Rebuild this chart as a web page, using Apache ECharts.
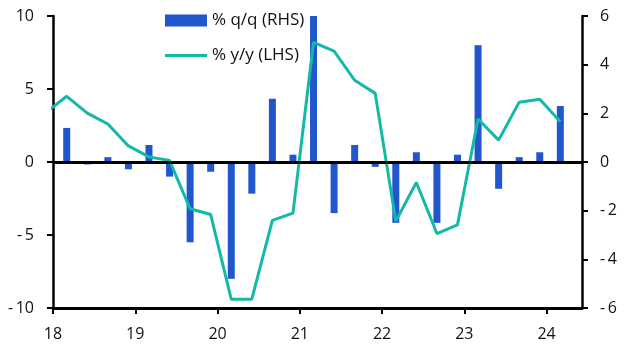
<!DOCTYPE html>
<html>
<head>
<meta charset="utf-8">
<script src="https://cdn.jsdelivr.net/npm/echarts@6/dist/echarts.min.js"></script>
<style>html,body{margin:0;padding:0;background:#fff}#c{width:629px;height:355px}</style>
</head>
<body>
<div id="c"></div>
<script>
// Quarters (line includes 2017Q4, bars start 2018Q1)
const lineQuarters = ["2017Q4","2018Q1","2018Q2","2018Q3","2018Q4","2019Q1","2019Q2","2019Q3","2019Q4","2020Q1","2020Q2","2020Q3","2020Q4","2021Q1","2021Q2","2021Q3","2021Q4","2022Q1","2022Q2","2022Q3","2022Q4","2023Q1","2023Q2","2023Q3","2023Q4","2024Q1"];
const yyValues = [3.4,4.5,3.35,2.6,1.1,0.35,0.1,-3.2,-3.6,-9.4,-9.4,-4.0,-3.5,8.2,7.6,5.6,4.7,-4.05,-1.4,-4.9,-4.3,2.95,1.5,4.1,4.3,2.75];
const barQuarters = lineQuarters.slice(1);
const qqValues = [1.4,-0.1,0.2,-0.3,0.7,-0.6,-3.3,-0.4,-4.8,-1.3,2.6,0.3,6.0,-2.1,0.7,-0.2,-2.5,0.4,-2.5,0.3,4.8,-1.1,0.2,0.4,2.3];
const xTicks = [18,19,20,21,22,23,24];
const lhsTicks = [-10,-5,0,5,10];
const rhsTicks = [-6,-4,-2,0,2,4,6];

function qx(q){ const y = parseInt(q.slice(0,4),10)-2000; const n = parseInt(q.slice(5),10); return y + (n-1)/4 + 1/6; }

const blue = '#2157CD', teal = '#13B9A7';
const font = 'Open Sans';
const axisFont = 16, legendFont = 17;
const chart = echarts.init(document.getElementById('c'), null, {renderer:'canvas'});
chart.setOption({
  animation:false,
  textStyle:{fontFamily:font},
  grid:{left:53,right:47,top:16,bottom:47,containLabel:false},
  legend:[
    {left:160, top:7, itemWidth:42, itemHeight:12, itemGap:0,
     textStyle:{fontFamily:font,fontSize:legendFont,color:'#111'},
     data:[{name:'% q/q (RHS)',icon:'rect'}]},
    {left:160, top:42, itemWidth:42, itemHeight:3, itemGap:0,
     textStyle:{fontFamily:font,fontSize:legendFont,color:'#111'},
     data:[{name:'% y/y (LHS)',icon:'rect'}]}
  ],
  xAxis:{
    type:'value', min:18, max:24.43, interval:1,
    axisLine:{show:true,onZero:false,lineStyle:{color:'#000',width:3}},
    axisTick:{show:true,length:6,lineStyle:{color:'#000',width:2}},
    axisLabel:{fontFamily:font,fontSize:axisFont,color:'#111',margin:18,showMaxLabel:false,
      formatter:v=> xTicks.includes(v)? String(v):''},
    splitLine:{show:false}
  },
  yAxis:[
    {type:'value',min:-10,max:10,interval:5,position:'left',
     axisLine:{show:true,onZero:false,lineStyle:{color:'#000',width:2.5}},
     axisTick:{show:true,length:6,lineStyle:{color:'#000',width:2}},
     axisLabel:{fontFamily:font,fontSize:axisFont,color:'#111',margin:19,
       formatter:v=> lhsTicks.includes(v)? String(v).replace('-','-\u2009'):''},
     splitLine:{show:false}},
    {type:'value',min:-6,max:6,interval:2,position:'right',
     axisLine:{show:true,onZero:false,lineStyle:{color:'#000',width:2.5}},
     axisTick:{show:true,length:6,lineStyle:{color:'#000',width:2}},
     axisLabel:{fontFamily:font,fontSize:axisFont,color:'#111',margin:18,
       formatter:v=> rhsTicks.includes(v)? String(v).replace('-','-\u2009'):''},
     splitLine:{show:false}}
  ],
  series:[
    {name:'% q/q (RHS)',type:'bar',yAxisIndex:1,barWidth:7,
     itemStyle:{color:blue},
     data: barQuarters.map((q,i)=>[qx(q),qqValues[i]]),
     markLine:{silent:true,symbol:'none',label:{show:false},
       lineStyle:{color:'#000',width:3,type:'solid'},data:[{yAxis:0}]}
    },
    {name:'% y/y (LHS)',type:'line',yAxisIndex:0,clip:true,
     symbol:'none',lineStyle:{color:teal,width:3},itemStyle:{color:teal},
     data: lineQuarters.map((q,i)=>[qx(q),yyValues[i]])
    }
  ]
});
</script>
</body>
</html>
